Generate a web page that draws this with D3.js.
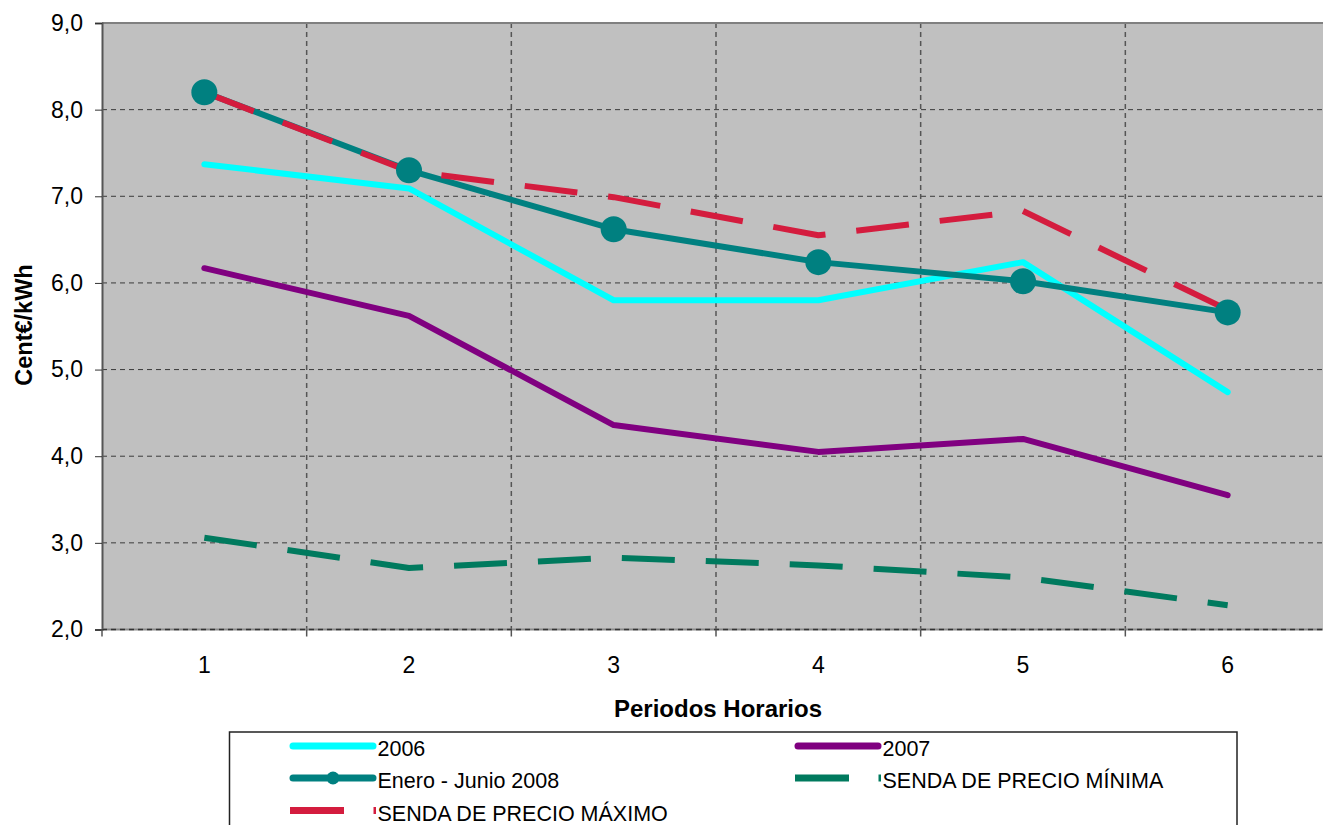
<!DOCTYPE html>
<html><head><meta charset="utf-8">
<script src="https://cdn.jsdelivr.net/npm/d3@7"></script>
<style>body{margin:0;background:#fff;overflow:hidden}svg{display:block;font-family:"Liberation Sans",Arial,sans-serif}</style>
</head><body>
<svg id="c" width="1323" height="825"></svg>
<script>
const categories = [1, 2, 3, 4, 5, 6];
const yTicks = [2, 3, 4, 5, 6, 7, 8, 9];
const s2006 = [7.37, 7.09, 5.80, 5.80, 6.24, 4.74];
const s2007 = [6.17, 5.62, 4.36, 4.05, 4.20, 3.55];
const s2008 = [8.20, 7.30, 6.62, 6.24, 6.02, 5.66];
const sMin = [3.06, 2.71, 2.83, 2.74, 2.60, 2.28];
const sMax = [8.20, 7.29, 6.99, 6.55, 6.83, 5.69];
const seriesNames = ["2006", "2007", "Enero - Junio 2008", "SENDA DE PRECIO MÍNIMA", "SENDA DE PRECIO MÁXIMO"];

const series = [
  {name: seriesNames[0], values: s2006, color: "#00FFFF", dash: null, marker: false},
  {name: seriesNames[1], values: s2007, color: "#800080", dash: null, marker: false},
  {name: seriesNames[2], values: s2008, color: "#008080", dash: null, marker: true},
  {name: seriesNames[3], values: sMin, color: "#007A5E", dash: "53,31", marker: false},
  {name: seriesNames[4], values: sMax, color: "#D41C3E", dash: "53,31", marker: false}
];

const svg = d3.select("#c");
const pL = 102, pR = 1330, pT = 23, pB = 629.5;
const x = d3.scaleBand().domain(categories).range([pL, pR]);
const y = d3.scaleLinear().domain([2, 9]).range([pB, pT]);
const FONT = "Liberation Sans, Arial, sans-serif";

// plot background
svg.append("rect").attr("x", pL).attr("y", pT).attr("width", pR - pL).attr("height", pB - pT).attr("fill", "#C0C0C0");

// horizontal grid
svg.append("g").selectAll("line").data(yTicks.slice(1)).join("line")
  .attr("x1", pL).attr("x2", pR).attr("y1", d => y(d)).attr("y2", d => y(d))
  .attr("stroke", "#3a3a3a").attr("stroke-width", 1).attr("stroke-dasharray", "5,4");
// vertical grid
const bounds = categories.slice(1).map(c => x(c));
svg.append("g").selectAll("line").data(bounds).join("line")
  .attr("x1", d => d).attr("x2", d => d).attr("y1", pT).attr("y2", pB)
  .attr("stroke", "#555").attr("stroke-width", 1.5).attr("stroke-dasharray", "5,4");

// plot border top
svg.append("line").attr("x1", pL).attr("x2", pR).attr("y1", pT).attr("y2", pT).attr("stroke", "#808080").attr("stroke-width", 2);

// y axis
const yAxis = d3.axisLeft(y).tickValues(yTicks).tickSize(7).tickPadding(12)
  .tickFormat(d => d3.format(".1f")(d).replace(".", ","));
const gy = svg.append("g").attr("transform", `translate(${pL},0)`).call(yAxis);
gy.select(".domain").attr("stroke", "#555").attr("stroke-width", 2);
gy.selectAll(".tick line").attr("stroke", "#333");
gy.selectAll("text").attr("font-size", 23).attr("fill", "#000").attr("font-family", FONT);

// x axis
const xAxis = d3.axisBottom(x).tickSize(0).tickPadding(27);
const gx = svg.append("g").attr("transform", `translate(0,${pB})`).call(xAxis);
gx.select(".domain").remove();
gx.selectAll("text").attr("font-size", 23).attr("fill", "#000").attr("font-family", FONT);
svg.append("line").attr("x1", pL).attr("x2", pR).attr("y1", pB).attr("y2", pB).attr("stroke", "#8a8a8a").attr("stroke-width", 2);
svg.append("line").attr("x1", pL).attr("x2", pR).attr("y1", pB).attr("y2", pB).attr("stroke", "#333").attr("stroke-width", 1.5).attr("stroke-dasharray", "5,4");
svg.append("g").selectAll("line").data([pL].concat(bounds)).join("line")
  .attr("x1", d => d).attr("x2", d => d).attr("y1", pB).attr("y2", pB + 7)
  .attr("stroke", "#555").attr("stroke-width", 1.5);

// axis titles
svg.append("text").attr("x", 718).attr("y", 717).attr("text-anchor", "middle")
  .attr("font-size", 24).attr("font-weight", "bold").text("Periodos Horarios");
svg.append("text").attr("transform", "translate(32,325) rotate(-90)").attr("text-anchor", "middle")
  .attr("font-size", 23.5).attr("font-weight", "bold").text("Cent€/kWh");

// lines
const cx = c => x(c) + x.bandwidth() / 2;
const line = d3.line().x((d, i) => cx(categories[i])).y(d => y(d));
series.forEach(s => {
  svg.append("path").datum(s.values).attr("d", line).attr("fill", "none")
    .attr("stroke", s.color).attr("stroke-width", 6)
    .attr("stroke-linejoin", "round").attr("stroke-linecap", s.dash ? "butt" : "round")
    .attr("stroke-dasharray", s.dash);
});
series.filter(s => s.marker).forEach(s => {
  svg.append("g").selectAll("circle").data(s.values).join("circle")
    .attr("cx", (d, i) => cx(categories[i])).attr("cy", d => y(d)).attr("r", 13).attr("fill", s.color);
});

// legend
const lg = svg.append("g");
lg.append("rect").attr("x", 229.5).attr("y", 732).attr("width", 1007.5).attr("height", 120)
  .attr("fill", "#fff").attr("stroke", "#222").attr("stroke-width", 1.5);
const legPos = [
  {lx: 290, ly: 746}, {lx: 795, ly: 746},
  {lx: 290, ly: 778}, {lx: 795, ly: 778},
  {lx: 290, ly: 810.5}
];
const symW = 86, dashW = 54;
series.forEach((s, i) => {
  const p = legPos[i];
  const g = lg.append("g");
  if (s.dash) {
    g.append("line").attr("x1", p.lx).attr("x2", p.lx + dashW).attr("y1", p.ly).attr("y2", p.ly)
      .attr("stroke", s.color).attr("stroke-width", 7);
    g.append("line").attr("x1", p.lx + symW - 2.5).attr("x2", p.lx + symW).attr("y1", p.ly).attr("y2", p.ly)
      .attr("stroke", s.color).attr("stroke-width", 7);
  } else {
    g.append("line").attr("x1", p.lx + 3).attr("x2", p.lx + symW - 3).attr("y1", p.ly).attr("y2", p.ly)
      .attr("stroke", s.color).attr("stroke-width", 7).attr("stroke-linecap", "round");
    if (s.marker) g.append("circle").attr("cx", p.lx + symW / 2).attr("cy", p.ly).attr("r", 6.5).attr("fill", s.color);
  }
  g.append("text").attr("x", p.lx + symW + 1.5).attr("y", p.ly + 10)
    .attr("font-size", 21.5).attr("fill", "#000").text(s.name);
});
</script>
</body></html>
